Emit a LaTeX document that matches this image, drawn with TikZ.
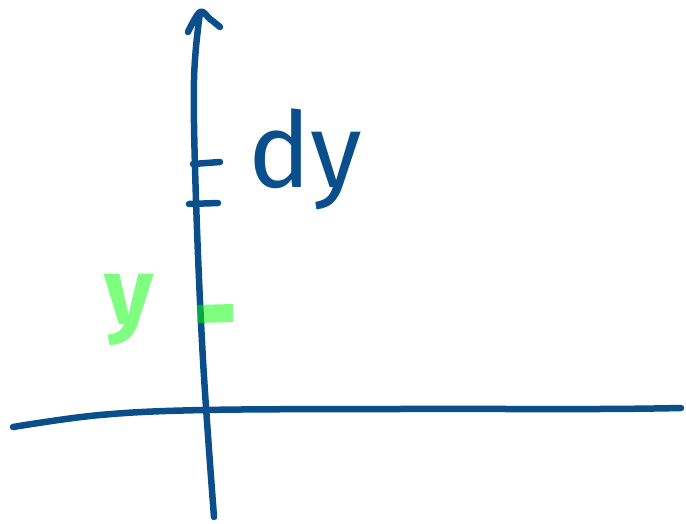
\documentclass[tikz,border=0pt]{standalone}
\usepackage{fontspec}
\setmainfont{Fira Sans}
\definecolor{inkblue}{RGB}{10,79,140}
\definecolor{marker}{RGB}{0,255,0}
\begin{document}
\begin{tikzpicture}[x=1pt,y=-1pt,
  ink/.style={draw=inkblue,line width=6.5pt,line cap=round,line join=round},
  hl/.style={draw=marker,draw opacity=0.5,line width=18pt,line cap=butt},
  bluelabel/.style={text=inkblue,font=\fontsize{105}{105}\selectfont,inner sep=0pt},
  greenlabel/.style={text=marker,text opacity=0.5,font=\fontsize{95}{95}\bfseries\selectfont,inner sep=0pt}]
\useasboundingbox (0,0) rectangle (686,524);
% vertical axis
\draw[ink] plot[smooth,tension=0.6] coordinates {(200,13) (194,80) (196,200) (203,360) (214,517)};
\draw[ink] plot[smooth,tension=0.6] coordinates {(188,32) (200,12) (210,19) (220,27)};
% horizontal axis
\draw[ink] plot[smooth,tension=0.6] coordinates {(13,427) (100,415) (205,410) (400,409) (600,409) (681,408)};
% dy ticks
\draw[ink] (193,164) -- (220,162);
\draw[ink] (189,204) -- (218,203);
\node[bluelabel,anchor=base west] (dy) at (248,188) {dy};
% green marker
\draw[hl] (197,314) -- (233,313);
\node[greenlabel,anchor=base west] (y) at (104,324) {y};
\end{tikzpicture}
\end{document}
